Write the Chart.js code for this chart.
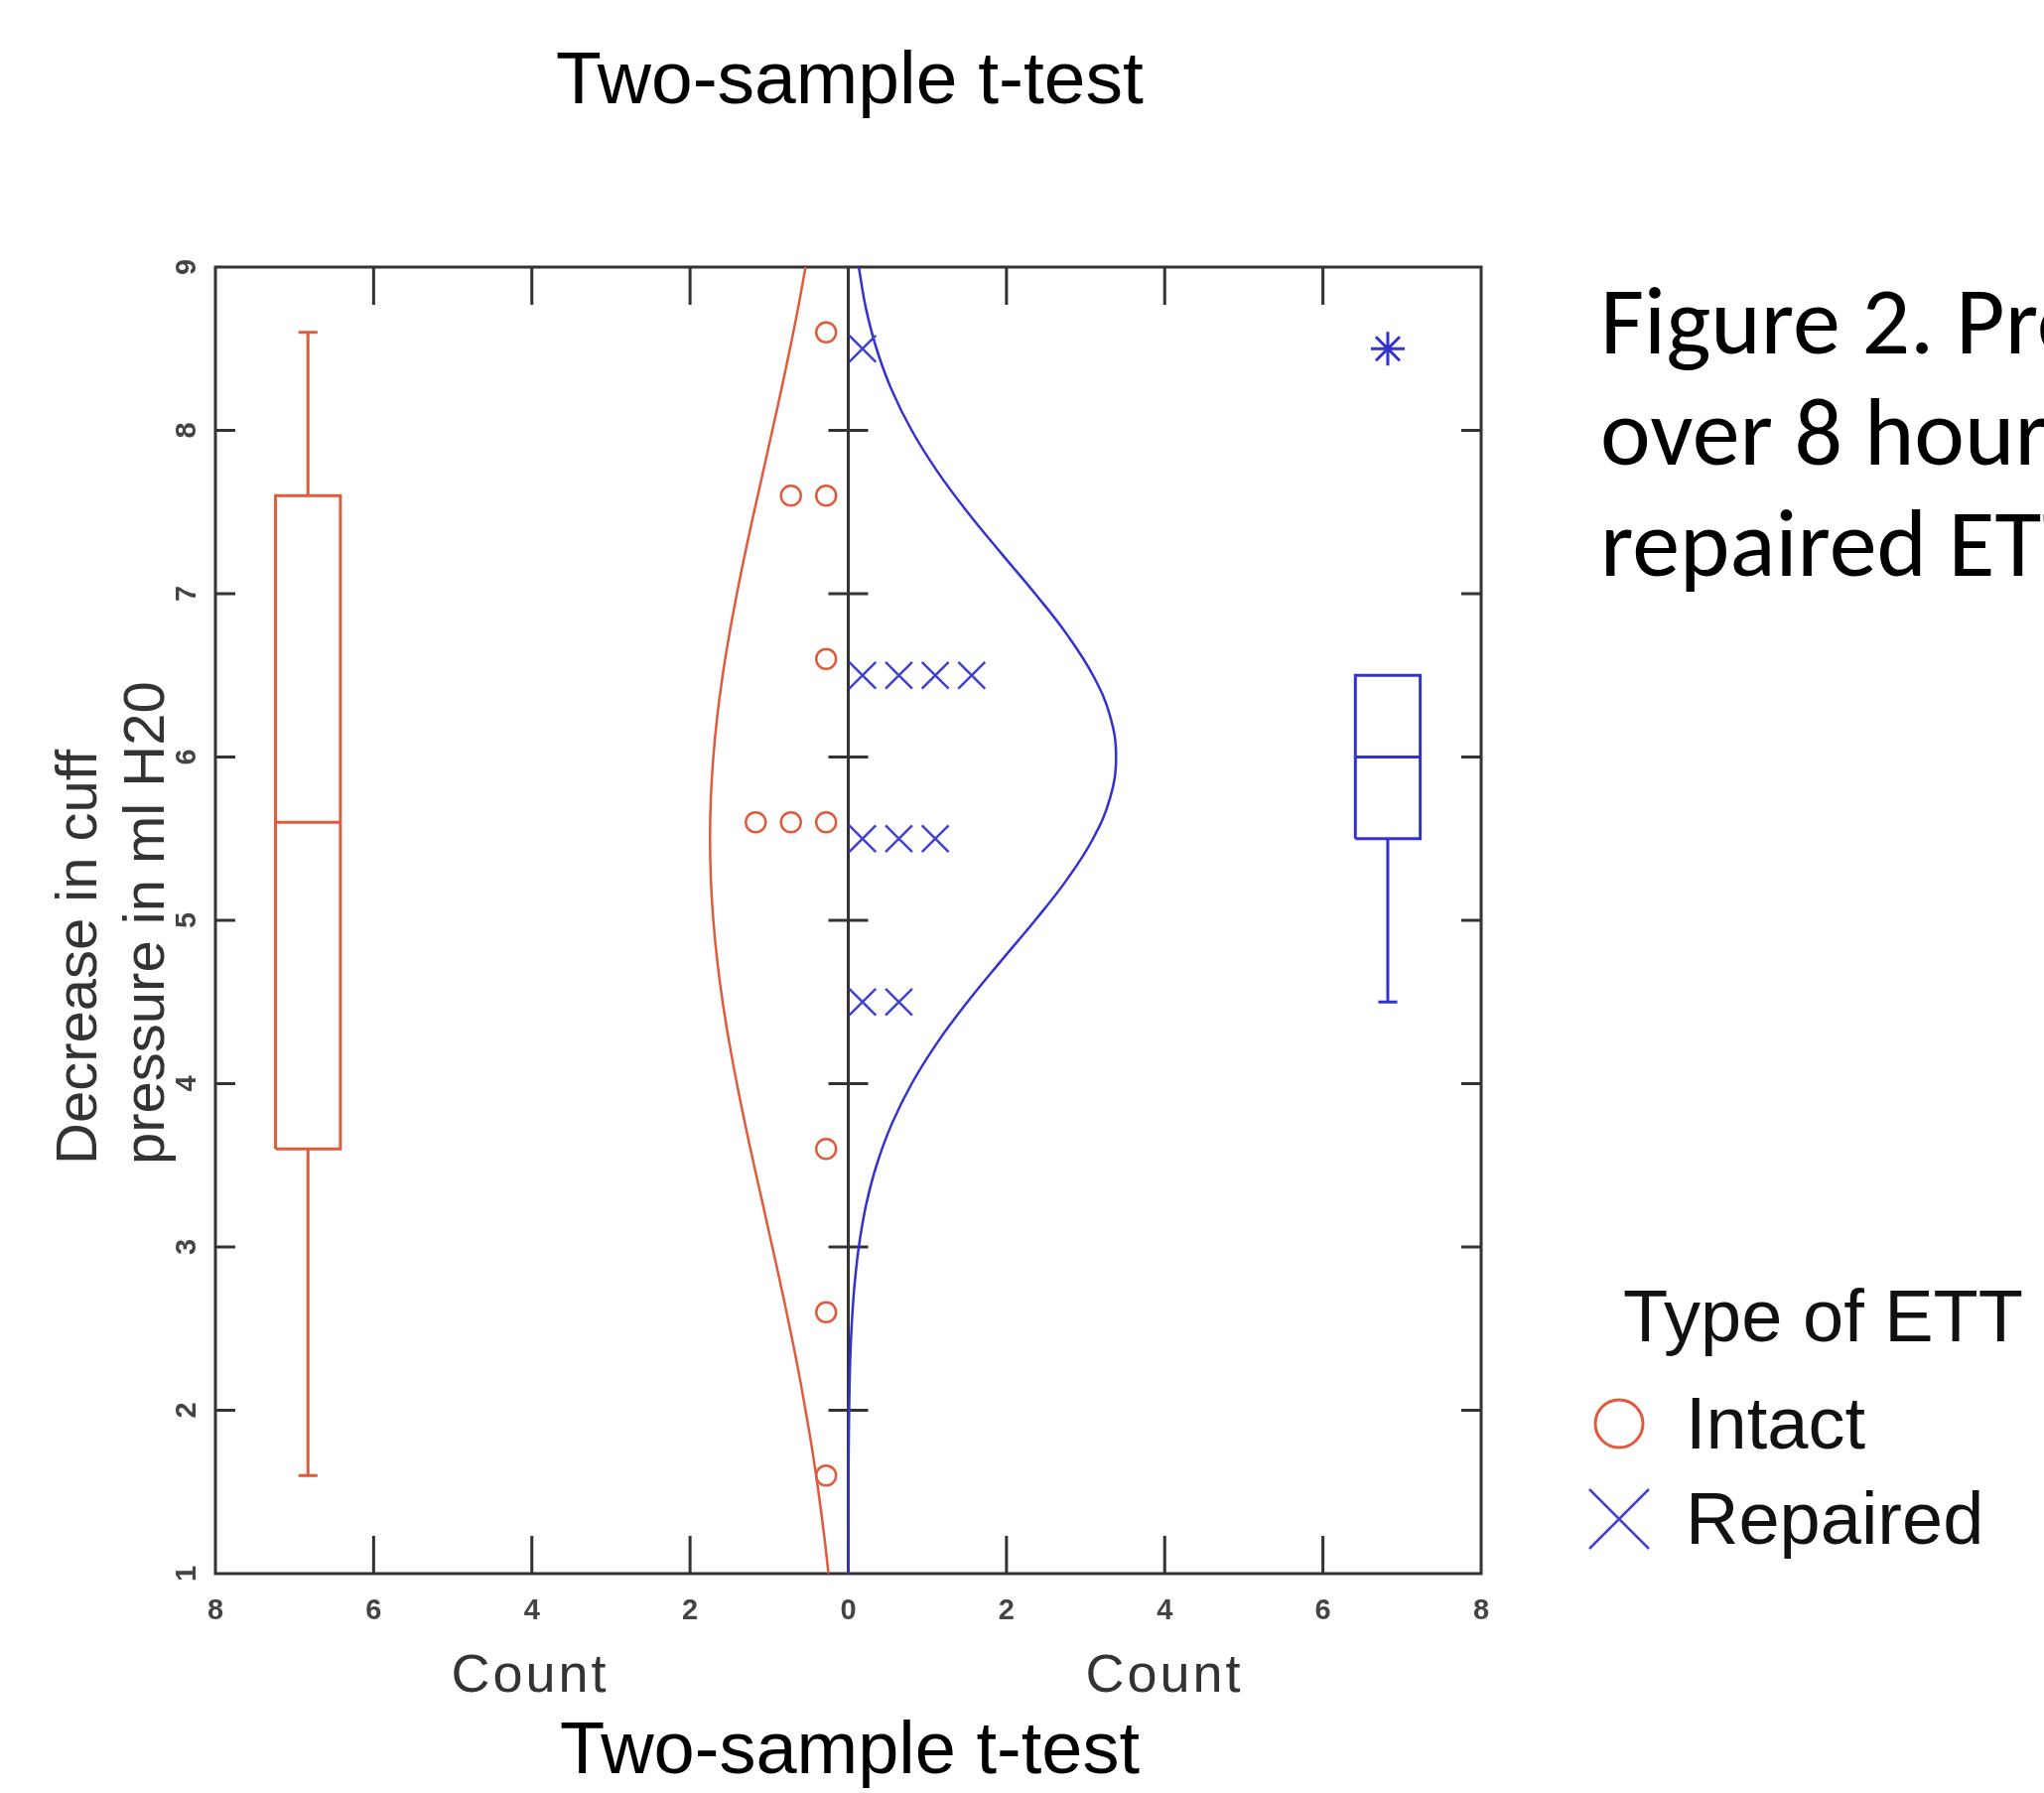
<!DOCTYPE html>
<html>
<head>
<meta charset="utf-8">
<title>Two-sample t-test</title>
<script src="https://cdn.jsdelivr.net/npm/chart.js@4.4.1/dist/chart.umd.min.js"></script>
<style>
  html, body { margin: 0; padding: 0; background: #fff; }
  body {
    width: 2059px; height: 1806px; position: relative; overflow: hidden;
    font-family: "Liberation Sans", Arial, sans-serif;
  }
  #chart { position: absolute; left: 0; top: 0; }
  .txt { position: absolute; white-space: pre; line-height: 1; }
  .center { transform: translateX(-50%); }
  #title-top { left: 856px; top: 41px; font-size: 75px; color: #000; }
  #title-bottom { left: 856px; top: 1724px; font-size: 74px; color: #000; }
  .count { top: 1658px; font-size: 54px; letter-spacing: 3px; color: #333; }
  #ytitle {
    position: absolute; left: 43px; top: 1173px; white-space: pre;
    font-size: 58px; line-height: 68px; color: #333;
    transform-origin: 0 0; transform: rotate(-90deg);
  }
  #caption {
    position: absolute; left: 1612px; top: 268px; white-space: pre;
    font-family: Carlito, Lato, "Open Sans", sans-serif;
    font-size: 96px; line-height: 112px; color: #000;
  }
  .leg { font-size: 74px; color: #111; }
</style>
</head>
<body>
<canvas id="chart" width="2059" height="1806"></canvas>

<div id="title-top" class="txt center">Two-sample t-test</div>
<div id="title-bottom" class="txt center">Two-sample t-test</div>
<div class="txt center count" style="left:534px">Count</div>
<div class="txt center count" style="left:1173px">Count</div>
<div id="ytitle">Decrease in cuff
pressure in ml H20</div>
<div id="caption">Figure 2. Pressure
over 8 hours
repaired ETT</div>

<div class="txt leg" style="left:1635px; top:1289px">Type of ETT</div>
<div class="txt leg" style="left:1698px; top:1397px">Intact</div>
<div class="txt leg" style="left:1698px; top:1493px">Repaired</div>
<svg style="position:absolute; left:1580px; top:1380px" width="100" height="200">
  <circle cx="51" cy="54" r="24" fill="none" stroke="#e05b3c" stroke-width="3"/>
  <path d="M21 120 L81 180 M81 120 L21 180" stroke="#4444d0" stroke-width="2.5" fill="none"/>
</svg>

<script>
// tick values of the two axes
const countTicks = [-8, -6, -4, -2, 0, 2, 4, 6, 8];
const pressureTicks = [1, 2, 3, 4, 5, 6, 7, 8, 9];

// raw observations (decrease in cuff pressure)
const intactValues = [1.6, 2.6, 3.6, 5.6, 5.6, 5.6, 6.6, 7.6, 7.6, 8.6];
const repairedValues = [4.5, 4.5, 5.5, 5.5, 5.5, 6.5, 6.5, 6.5, 6.5, 8.5];

// box plots: lower whisker, Q1, median, Q3, upper whisker
const intactBox = [1.6, 3.6, 5.6, 7.6, 8.6];
const repairedBox = [4.5, 5.5, 6.0, 6.5, 6.5];
const repairedOutliers = [8.5];

// normal curves (count) read at each pressure level
const curveLevels = [1, 1.25, 1.5, 1.75, 2, 2.25, 2.5, 2.75, 3, 3.25, 3.5, 3.75, 4, 4.25, 4.5, 4.75,
  5, 5.25, 5.5, 5.75, 6, 6.25, 6.5, 6.75, 7, 7.25, 7.5, 7.75, 8, 8.25, 8.5, 8.75, 9];
const intactCurve = [0.25, 0.309, 0.377, 0.453, 0.54, 0.634, 0.737, 0.846, 0.96, 1.075, 1.191, 1.303,
  1.408, 1.504, 1.588, 1.656, 1.706, 1.737, 1.748, 1.737, 1.706, 1.656, 1.588, 1.504, 1.408, 1.303,
  1.191, 1.075, 0.96, 0.846, 0.737, 0.634, 0.54];
const repairedCurve = [0.0, 0.001, 0.002, 0.005, 0.011, 0.021, 0.041, 0.076, 0.133, 0.222, 0.357, 0.547,
  0.802, 1.124, 1.506, 1.929, 2.362, 2.765, 3.094, 3.31, 3.385, 3.31, 3.094, 2.765, 2.362, 1.929,
  1.506, 1.124, 0.802, 0.547, 0.357, 0.222, 0.133];

const RED = "#e05b3c";
const BLUE = "#3232cf";
const AXIS = "#333";

// where the box plots sit on the count axis
const intactPos = -6.83;
const repairedPos = 6.82;
const BOX_HALF = 0.41;
const CAP_HALF = 0.12;

// stack equal values side by side, like a dot plot
function stackDots(values, first, step) {
  const seen = {};
  return values.map(function (v) {
    const k = seen[v] || 0;
    seen[v] = k + 1;
    return { x: first + k * step, y: v };
  });
}

function gap() {
  return { x: null, y: null };
}

function boxPath(pos, s) {
  const lo = s[0], q1 = s[1], med = s[2], q3 = s[3], hi = s[4];
  const pts = [
    { x: pos - BOX_HALF, y: q1 }, { x: pos + BOX_HALF, y: q1 },
    { x: pos + BOX_HALF, y: q3 }, { x: pos - BOX_HALF, y: q3 },
    { x: pos - BOX_HALF, y: q1 }, gap(),
    { x: pos - BOX_HALF, y: med }, { x: pos + BOX_HALF, y: med }, gap()
  ];
  if (lo < q1) {
    pts.push({ x: pos, y: lo }, { x: pos, y: q1 }, gap());
    pts.push({ x: pos - CAP_HALF, y: lo }, { x: pos + CAP_HALF, y: lo }, gap());
  }
  if (hi > q3) {
    pts.push({ x: pos, y: q3 }, { x: pos, y: hi }, gap());
    pts.push({ x: pos - CAP_HALF, y: hi }, { x: pos + CAP_HALF, y: hi }, gap());
  }
  return pts;
}

// frame, centre line and inward tick marks
const innerTicks = {
  id: "innerTicks",
  beforeDatasetsDraw(chart) {
    const ctx = chart.ctx;
    const a = chart.chartArea;
    const xs = chart.scales.x;
    const ys = chart.scales.y;
    const x0 = xs.getPixelForValue(0);
    ctx.save();
    ctx.strokeStyle = AXIS;
    ctx.lineWidth = 3;
    ctx.strokeRect(a.left, a.top, a.right - a.left, a.bottom - a.top);
    ctx.beginPath();
    ctx.moveTo(x0, a.top);
    ctx.lineTo(x0, a.bottom);
    xs.ticks.forEach(function (t) {
      if (t.value <= xs.min || t.value >= xs.max || t.value === 0) return;
      const px = xs.getPixelForValue(t.value);
      ctx.moveTo(px, a.top);
      ctx.lineTo(px, a.top + 38);
      ctx.moveTo(px, a.bottom);
      ctx.lineTo(px, a.bottom - 38);
    });
    ys.ticks.forEach(function (t) {
      if (t.value <= ys.min || t.value >= ys.max) return;
      const py = ys.getPixelForValue(t.value);
      ctx.moveTo(a.left, py);
      ctx.lineTo(a.left + 20, py);
      ctx.moveTo(a.right, py);
      ctx.lineTo(a.right - 20, py);
      ctx.moveTo(x0 - 20, py);
      ctx.lineTo(x0 + 20, py);
    });
    ctx.stroke();
    ctx.restore();
  }
};

const tickFont = { family: "'Liberation Sans', Arial, sans-serif", size: 29, weight: "bold" };

const config = {
  type: "scatter",
  data: {
    datasets: [
      {
        label: "Repaired outliers",
        data: repairedOutliers.map(function (v) { return { x: repairedPos, y: v }; }),
        pointStyle: "star",
        pointRadius: 17,
        pointBorderWidth: 3,
        borderColor: BLUE,
        backgroundColor: BLUE
      },
      {
        label: "Intact",
        data: stackDots(intactValues, -0.28, -0.445),
        pointStyle: "circle",
        pointRadius: 10,
        pointBorderWidth: 2.5,
        borderColor: RED,
        backgroundColor: "rgba(0,0,0,0)"
      },
      {
        label: "Repaired",
        data: stackDots(repairedValues, 0.18, 0.46),
        pointStyle: "crossRot",
        pointRadius: 19,
        pointBorderWidth: 2.5,
        borderColor: "#4040d4",
        backgroundColor: "#4040d4"
      },
      {
        label: "Intact box",
        data: boxPath(intactPos, intactBox),
        showLine: true,
        spanGaps: false,
        tension: 0,
        pointRadius: 0,
        borderWidth: 3,
        borderColor: RED
      },
      {
        label: "Repaired box",
        data: boxPath(repairedPos, repairedBox),
        showLine: true,
        spanGaps: false,
        tension: 0,
        pointRadius: 0,
        borderWidth: 3,
        borderColor: BLUE
      },
      {
        label: "Intact normal",
        data: curveLevels.map(function (y, i) { return { x: -intactCurve[i], y: y }; }),
        showLine: true,
        tension: 0.4,
        pointRadius: 0,
        borderWidth: 2.5,
        borderColor: RED
      },
      {
        label: "Repaired normal",
        data: curveLevels.map(function (y, i) { return { x: repairedCurve[i], y: y }; }),
        showLine: true,
        tension: 0.4,
        pointRadius: 0,
        borderWidth: 2.5,
        borderColor: BLUE
      }
    ]
  },
  options: {
    responsive: false,
    animation: false,
    devicePixelRatio: 1,
    events: [],
    layout: { padding: { top: 269, right: 567, bottom: 121, left: 0 } },
    plugins: {
      legend: { display: false },
      tooltip: { enabled: false }
    },
    scales: {
      x: {
        type: "linear",
        min: -8,
        max: 8,
        grid: { display: false, drawTicks: false },
        border: { display: false },
        afterBuildTicks: function (s) { s.ticks = countTicks.map(function (v) { return { value: v }; }); },
        afterFit: function (s) { s.height = 100; },
        ticks: {
          autoSkip: false,
          maxRotation: 0,
          padding: 21,
          color: "#444",
          font: tickFont,
          callback: function (v) { return Math.abs(v); }
        }
      },
      y: {
        type: "linear",
        min: 1,
        max: 9,
        grid: { display: false, drawTicks: false },
        border: { display: false },
        afterBuildTicks: function (s) { s.ticks = pressureTicks.map(function (v) { return { value: v }; }); },
        afterFit: function (s) { s.width = 217; },
        ticks: {
          autoSkip: false,
          minRotation: 90,
          maxRotation: 90,
          crossAlign: "center",
          padding: 20,
          color: "#444",
          font: tickFont
        }
      }
    }
  },
  plugins: [innerTicks]
};

window.myChart = new Chart(document.getElementById("chart"), config);
</script>
</body>
</html>
